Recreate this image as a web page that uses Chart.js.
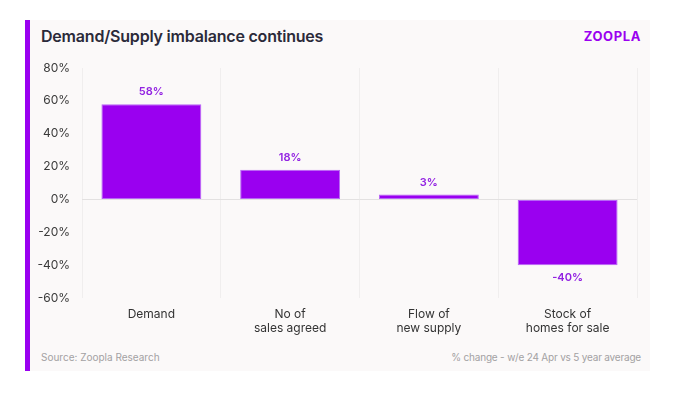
<!DOCTYPE html>
<html>
<head>
<meta charset="utf-8">
<script src="https://cdn.jsdelivr.net/npm/chart.js@4/dist/chart.umd.min.js"></script>
<style>
  body { margin: 0; background: #ffffff; }
  #wrap { position: relative; width: 687px; height: 395px; overflow: hidden; font-family: Inter, "Noto Sans", sans-serif; }
  #card { position: absolute; left: 30px; top: 20px; width: 620px; height: 351px; background: #fbf9f9; }
  #accent { position: absolute; left: 25px; top: 20px; width: 5px; height: 351px; background: #9a00f0; }
  #title { position: absolute; left: 41px; top: 26px; font-size: 16px; font-weight: 600; color: #2b2a3a; letter-spacing: -0.2px; }
  #logo { position: absolute; right: 46px; top: 28px; font-size: 13px; font-weight: 700; color: #9a00f0; letter-spacing: 0.6px; }
  .foot { position: absolute; top: 351px; font-size: 10px; color: #a3a1a3; }
  #src { left: 41px; }
  #note { right: 46px; letter-spacing: -0.2px; }
  canvas { position: absolute; left: 0; top: 0; }
</style>
</head>
<body>
<div id="wrap">
  <div id="card"></div>
  <div id="accent"></div>
  <div id="title">Demand/Supply imbalance continues</div>
  <div id="logo">ZOOPLA</div>
  <div class="foot" id="src">Source: Zoopla Research</div>
  <div class="foot" id="note">% change - w/e 24 Apr vs 5 year average</div>
  <canvas id="grafico" width="687" height="395"></canvas>
</div>
<script>
const categorias = [['Demand'], ['No of', 'sales agreed'], ['Flow of', 'new supply'], ['Stock of', 'homes for sale']];
const variacao = [58, 18, 3, -40];
const ticksY = [-60, -40, -20, 0, 20, 40, 60, 80];

const roxo = '#9a00f0';

const rotulosBarras = {
    id: 'rotulosBarras',
    afterDatasetsDraw(chart) {
        const ctx = chart.ctx;
        const meta = chart.getDatasetMeta(0);
        ctx.save();
        ctx.font = '600 11px Inter, "Noto Sans", sans-serif';
        ctx.fillStyle = '#9222e2';
        ctx.textAlign = 'center';
        ctx.textBaseline = 'middle';
        meta.data.forEach((barra, i) => {
            const v = variacao[i];
            const y = v >= 0 ? barra.y - 12 : barra.y + 13;
            ctx.fillText(v + '%', barra.x, y);
        });
        ctx.restore();
    }
};

new Chart(document.getElementById('grafico').getContext('2d'), {
    type: 'bar',
    data: {
        labels: categorias,
        datasets: [{
            data: variacao,
            backgroundColor: roxo,
            borderColor: '#b766f6',
            borderWidth: 1,
            borderSkipped: false,
            barPercentage: 0.72,
            categoryPercentage: 1
        }]
    },
    options: {
        responsive: false,
        animation: false,
        layout: { padding: { left: 30, right: 50, top: 68, bottom: 57 } },
        plugins: { legend: { display: false }, tooltip: { enabled: false } },
        scales: {
            x: {
                afterFit: s => { s.height = 40; },
                grid: { color: '#f0eeee', drawTicks: false },
                border: { display: false },
                ticks: { padding: 9, color: '#333333', font: { family: 'Inter, "Noto Sans", sans-serif', size: 12 }, maxRotation: 0 }
            },
            y: {
                min: -60,
                max: 80,
                afterFit: s => { s.width = 52; },
                afterBuildTicks: s => { s.ticks = ticksY.map(v => ({ value: v })); },
                grid: { color: c => c.tick && c.tick.value === 0 ? '#e3e1e1' : 'rgba(0,0,0,0)', drawTicks: false },
                border: { display: false },
                ticks: { padding: 12, color: '#3a3a3a', font: { family: 'Inter, "Noto Sans", sans-serif', size: 12 }, callback: v => v + '%' }
            }
        }
    },
    plugins: [rotulosBarras]
});
</script>
</body>
</html>
